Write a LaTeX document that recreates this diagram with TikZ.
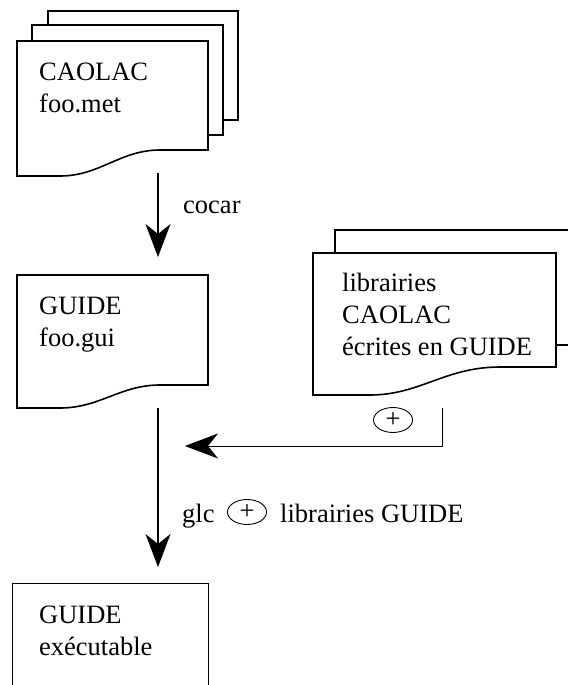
\documentclass[tikz,border=0pt]{standalone}
\usepackage{fontspec}
\setmainfont{Liberation Serif}
\usetikzlibrary{arrows.meta,shapes.geometric,positioning}
\begin{document}
\begin{tikzpicture}[x=1pt,y=-1pt,
doc/.style={line width=1.6pt, line join=miter},
box/.style={line width=0.9pt},
txt/.style={anchor=base west, align=left, inner sep=0pt, font=\fontsize{26.5}{31.7}\selectfont},
plus/.style={draw, ellipse, line width=0.9pt, minimum width=39pt, minimum height=25pt, inner sep=0pt, font=\fontsize{26.5}{31.7}\selectfont},
arrow/.style={-{Stealth[length=33pt,width=25pt,inset=10pt]}, line width=1.6pt},
feed/.style={-{Stealth[length=33pt,width=25pt,inset=10pt]}, line width=0.9pt}
]
\useasboundingbox (0,0) rectangle (568,685);
% pile foo.met
\draw[doc] (48,25) -- (48,11) -- (238,11) -- (238,120) -- (223,120);
\draw[doc] (32,41) -- (32,25) -- (223,25) -- (223,135) -- (208,135);
\draw[doc] (17,176) -- (17,41) -- (208,41) -- (208,150) -- (160,150) .. controls (120,150) and (100,176) .. (60,176) -- cycle;
\node[txt] (met) at (39,112) {CAOLAC\\foo.met};
% foo.gui
\draw[doc] (17,408) -- (17,275) -- (208,275) -- (208,385) -- (160,385) .. controls (120,385) and (100,408) .. (60,408) -- cycle;
\node[txt] (gui) at (39,346) {GUIDE\\foo.gui};
% librairies
\draw[doc] (335,253) -- (335,230) -- (568,230);
\draw[doc] (556,345) -- (568,345);
\draw[doc] (313,395) -- (313,253) -- (556,253) -- (556,367) -- (500,367) .. controls (445,367) and (420,395) .. (370,395) -- cycle;
\node[txt] (lib) at (342,355) {librairies\\CAOLAC\\écrites en GUIDE};
% executable
\draw[box] (12,685) -- (12,583) -- (208,583) -- (208,685);
\node[txt] (exe) at (39,655) {GUIDE\\exécutable};
% connecteurs
\coordinate (met-out) at (158,173);
\coordinate (gui-in) at (158,257);
\coordinate (gui-out) at (158,408);
\coordinate (exe-in) at (158,567);
\coordinate (lib-out) at (442,408);
\coordinate (join) at (185,446);
\draw[arrow] (met-out) -- (gui-in);
\node[txt] (cocar) at (183,213) {cocar};
\draw[arrow] (gui-out) -- (exe-in);
\draw[feed] (lib-out) |- (join);
\node[plus] (plus1) at (393,420) {+};
\node[txt] (glc) at (182,522) {glc};
\node[plus] (plus2) at (247,512) {+};
\node[txt] (libg) at (280,522) {librairies GUIDE};
\end{tikzpicture}
\end{document}
